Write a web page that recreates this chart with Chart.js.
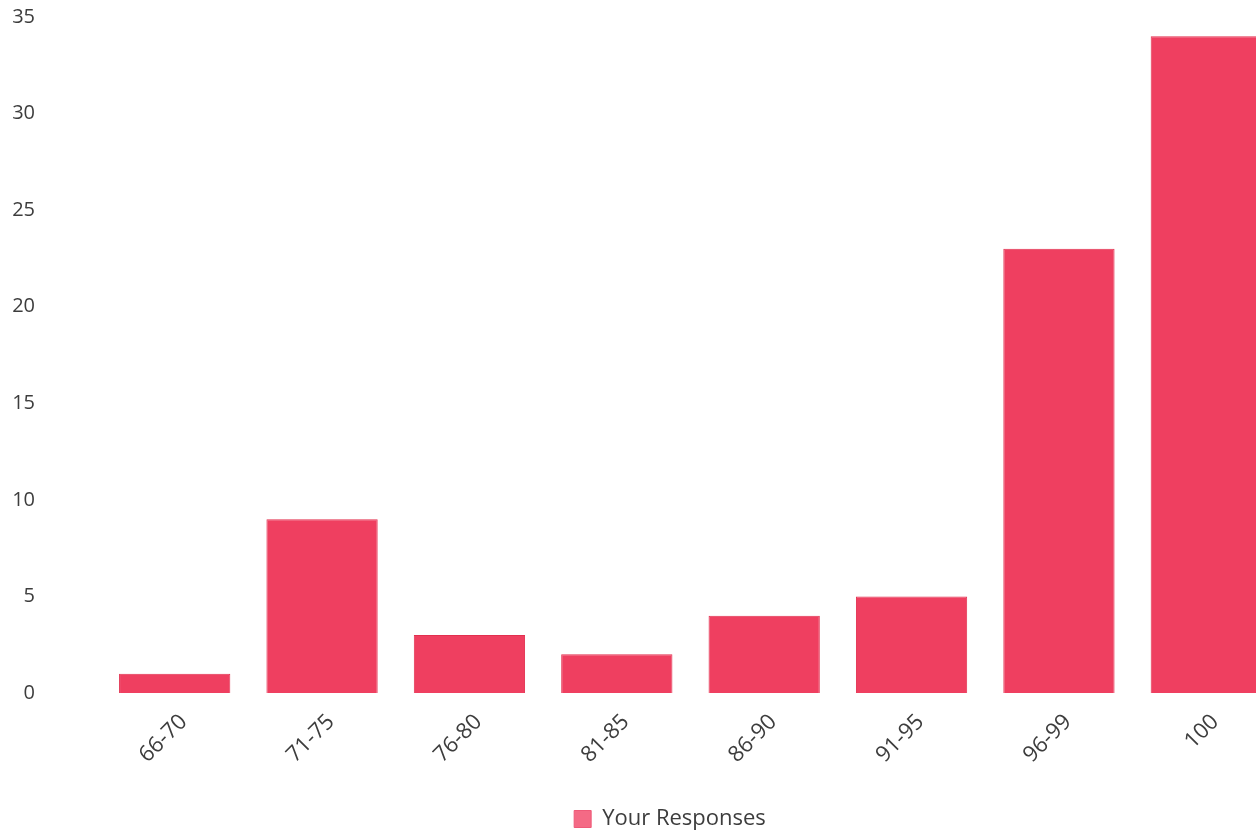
<!DOCTYPE html>
<html>
<head>
<meta charset="utf-8">
<script src="https://cdn.jsdelivr.net/npm/chart.js@4"></script>
<style>
  html, body { margin: 0; padding: 0; background: #fff; overflow: hidden; }
  #wrap { width: 1256px; height: 834px; overflow: hidden; }
</style>
</head>
<body>
<div id="wrap">
  <canvas id="chart" width="1340" height="834"></canvas>
</div>
<script>
var categories = ['66-70', '71-75', '76-80', '81-85', '86-90', '91-95', '96-99', '100'];
var responses = [1, 9, 3, 2, 4, 5, 23, 34];
var seriesLabel = 'Your Responses';

var textColor = '#3d3d3d';
var fontFamily = '"Open Sans", "DejaVu Sans", sans-serif';

var ctx = document.getElementById('chart').getContext('2d');
var barChart = new Chart(ctx, {
    type: 'bar',
    data: {
        labels: categories,
        datasets: [{
            label: seriesLabel,
            data: responses,
            backgroundColor: '#ef3f60',
            borderColor: '#e2304f',
            borderWidth: 1,
            categoryPercentage: 1,
            barPercentage: 0.755
        }]
    },
    options: {
        responsive: false,
        animation: false,
        layout: {
            padding: { top: 17, left: 0, right: 0, bottom: -6 }
        },
        scales: {
            x: {
                grid: { display: false },
                border: { display: false },
                ticks: {
                    color: textColor,
                    font: { family: fontFamily, size: 22 },
                    minRotation: 45,
                    maxRotation: 45,
                    padding: 8,
                    labelOffset: 9
                },
                afterFit: function(scale) { scale.height = 105; }
            },
            y: {
                min: 0,
                max: 35,
                grid: { display: false, drawTicks: false },
                border: { display: false },
                ticks: {
                    stepSize: 5,
                    color: textColor,
                    font: { family: fontFamily, size: 20 },
                    padding: 66
                },
                afterFit: function(scale) {
                    // keep the wide label gap from pushing the plot down
                    scale.width = 101;
                    scale.paddingTop = 0;
                    scale.paddingBottom = 0;
                }
            },
            spacer: {
                position: 'right',
                grid: { display: false, drawTicks: false },
                border: { display: false },
                ticks: { display: false },
                afterFit: function(scale) { scale.width = 60; }
            }
        },
        plugins: {
            tooltip: { enabled: false },
            legend: {
                position: 'bottom',
                labels: {
                    color: textColor,
                    font: { family: fontFamily, size: 22 },
                    boxWidth: 17,
                    boxHeight: 17,
                    padding: 10,
                    generateLabels: function(chart) {
                        var items = Chart.defaults.plugins.legend.labels.generateLabels(chart);
                        items.forEach(function(it) {
                            it.fillStyle = '#f46a85';
                            it.strokeStyle = '#ee5a78';
                            it.lineWidth = 1;
                        });
                        return items;
                    }
                }
            }
        }
    }
});
</script>
</body>
</html>
